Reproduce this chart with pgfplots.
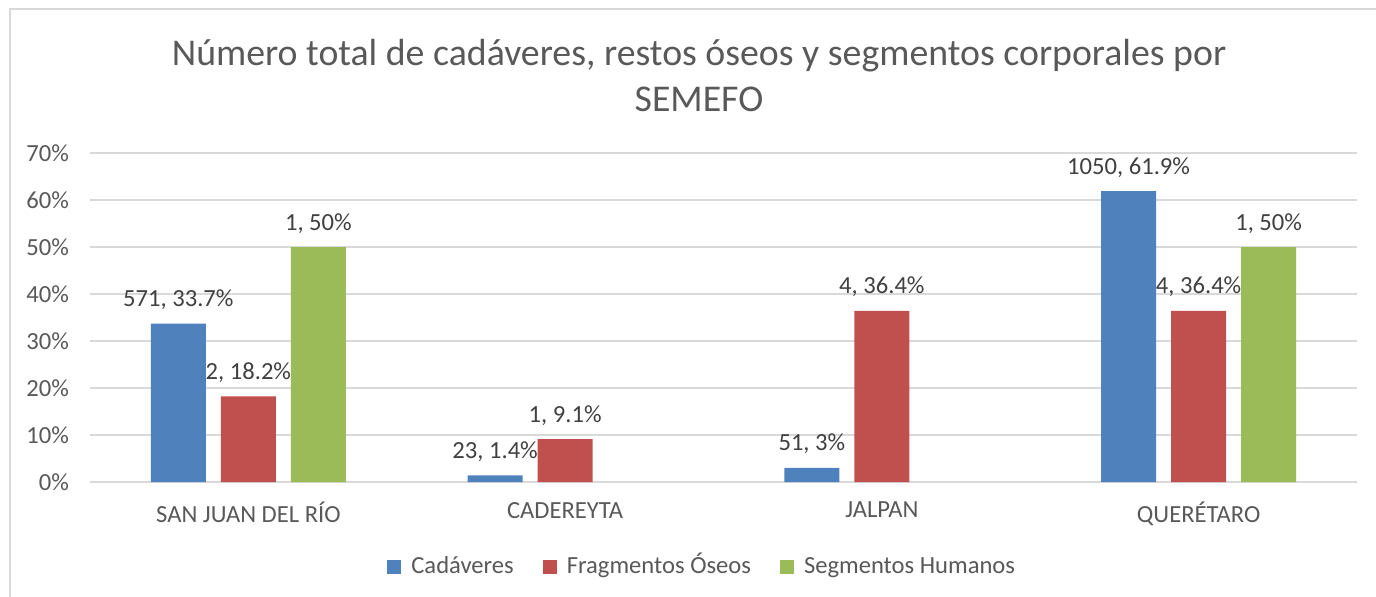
\documentclass[border=0pt]{standalone}
\usepackage{pgfplots}
\pgfplotsset{compat=1.18}
\usepackage{fontspec}
\setmainfont{Carlito}
\definecolor{txt}{HTML}{595959}
\definecolor{gridc}{HTML}{D9D9D9}
\definecolor{cblue}{HTML}{4F81BD}
\definecolor{cred}{HTML}{C0504D}
\definecolor{cgreen}{HTML}{9BBB59}
\begin{document}
\begin{tikzpicture}
\path[use as bounding box] (-45pt,-57pt) rectangle (643pt,241pt);
\draw[gridc, line width=0.8pt] (-40pt,-60pt) -- (-40pt,236.5pt) -- (650pt,236.5pt);
\begin{axis}[
  scale only axis,
  width=633.5pt, height=164.5pt,
  xmin=-0.5, xmax=3.5,
  ymin=0, ymax=70,
  ytick={0,10,...,70},
  yticklabels={0\%,10\%,20\%,30\%,40\%,50\%,60\%,70\%},
  xtick={0,1,2,3},
  xticklabels={SAN JUAN DEL RÍO,CADEREYTA,JALPAN,QUERÉTARO},
  major tick length=0pt,
  axis line style={draw=none},
  ymajorgrids,
  major grid style={gridc, line width=0.8pt},
  tick label style={font=\fontsize{12.3}{14}\selectfont, text=txt},
  yticklabel style={xshift=-7pt},
  xticklabel style={yshift=-6.5pt},
  ybar=7.5pt,
  bar width=27.5pt,
  nodes near coords,
  point meta=explicit symbolic,
  nodes near coords style={font=\fontsize{12.3}{14}\selectfont, text=black!75, anchor=base, inner sep=0pt, yshift=8.5pt},
  legend columns=3,
  legend style={draw=none, at={(0.484,-0.26)}, anchor=center, font=\fontsize{12.3}{14}\selectfont, text=txt,
    nodes={text height=8.5pt, text depth=2.5pt},
    /tikz/every odd column/.append style={column sep=3pt},
    /tikz/every even column/.append style={column sep=12.5pt}},
  legend image code/.code={\fill[#1] (0pt,-3pt) rectangle (7pt,4pt);},
  clip=false,
]
\addplot[fill=cblue, draw=none] coordinates {
  (0,33.7) [{571, 33.7\%}]
  (1,1.4) [{23, 1.4\%}]
  (2,3) [{51, 3\%}]
  (3,61.9) [{1050, 61.9\%}]
};
\addplot[fill=cred, draw=none] coordinates {
  (0,18.2) [{2, 18.2\%}]
  (1,9.1) [{1, 9.1\%}]
  (2,36.4) [{4, 36.4\%}]
  (3,36.4) [{4, 36.4\%}]
};
\addplot[fill=cgreen, draw=none] coordinates {
  (0,50) [{1, 50\%}]
  (3,50) [{1, 50\%}]
};
\legend{Cadáveres, Fragmentos Óseos, Segmentos Humanos}
\end{axis}
\node[text=txt, align=center, font=\fontsize{18.9}{23}\selectfont] at (304.5pt,203pt) {Número total de cadáveres, restos óseos y segmentos corporales por\\SEMEFO};
\end{tikzpicture}
\end{document}
